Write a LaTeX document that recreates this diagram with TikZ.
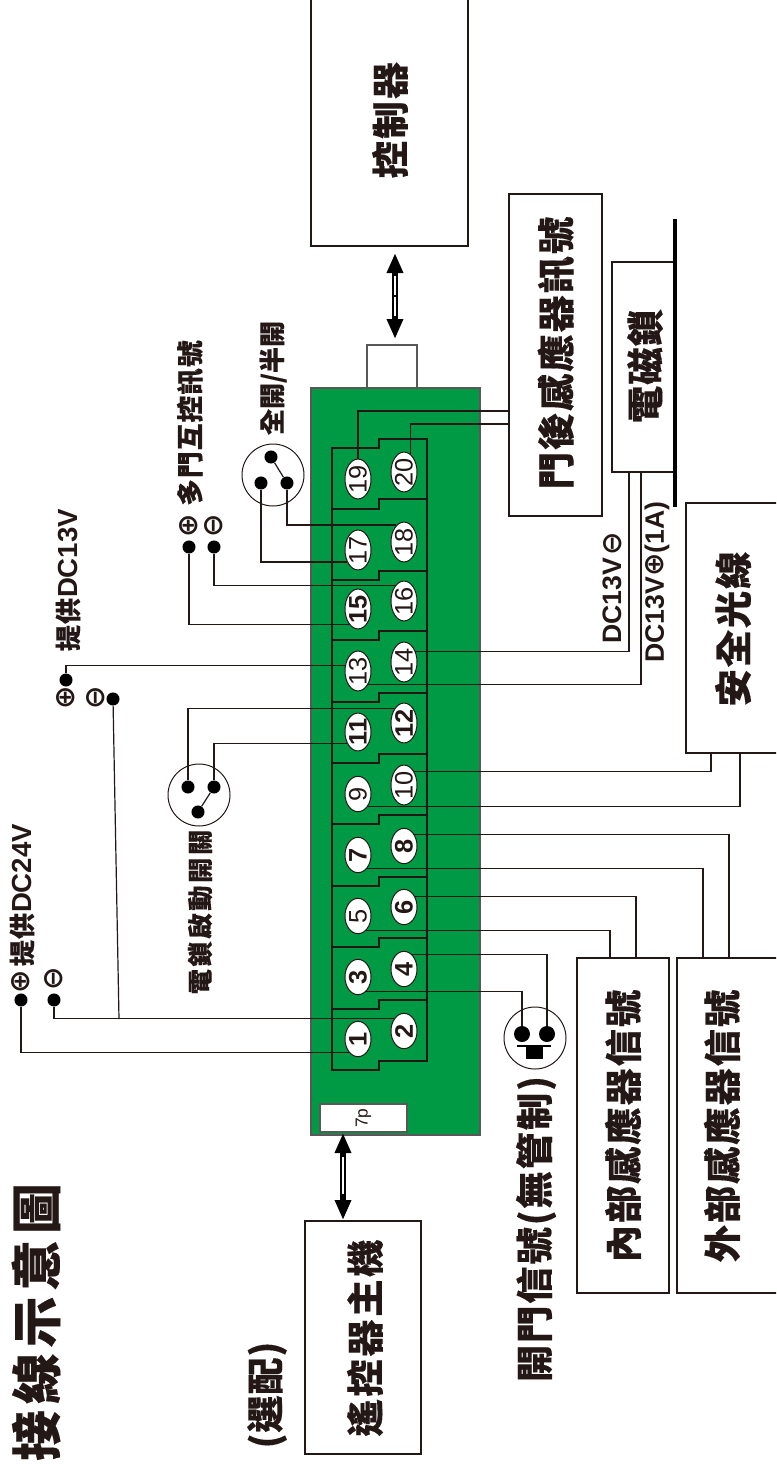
\documentclass[tikz,border=0pt]{standalone}
\usepackage{fontspec}
\usepackage{graphicx}
\usetikzlibrary{shapes.geometric,arrows.meta,calc}
\setmainfont{Liberation Sans}
\newfontfamily\cjkf{Noto Sans CJK TC}
\newfontfamily\symf{DejaVu Sans}
\definecolor{ink}{HTML}{231815}
\definecolor{board}{HTML}{009944}
\definecolor{edge}{HTML}{595757}
\newcommand\fs[2]{\cjkf\bfseries\fontsize{#1}{#1}\selectfont\addfontfeature{LetterSpace=#2,FakeBold=0.3}}
\newcommand\ls[1]{\bfseries\fontsize{#1}{#1}\selectfont}
\newcommand\boxn[5]{\node[boxs,minimum width={(#4-#2)*0.75pt},minimum height={(#5-#3)*0.75pt}] (#1) at ({(#2+#4)/2},{(#3+#5)/2}) {};}
\newcommand\term[4]{\node[termn] (t#1) at (#2,#3) {\rotatebox{90}{#4#1}};}
\newcommand\symb[4]{\node[symn] (#1) at (#2,#3) {\symf #4};}
\tikzset{
  boxs/.style={draw=ink,fill=white,line width=0.9pt,inner sep=0pt,rectangle},
  wire/.style={draw=ink,line width=0.9pt},
  termn/.style={ellipse,draw=ink,fill=white,line width=0.75pt,inner sep=0pt,minimum width=19.5pt,minimum height=26.5pt,font=\fontsize{19}{19}\selectfont,text=ink},
  dot/.style={circle,fill=black,inner sep=0pt,minimum size=9.8pt},
  lbl/.style={rotate=90,inner sep=0pt,text=ink,anchor=center},
  symn/.style={rotate=90,inner sep=0pt,text=ink,anchor=center,font=\bfseries\fontsize{21}{21}\selectfont},
  swcirc/.style={circle,draw=ink,line width=0.75pt,inner sep=0pt,minimum size=46.5pt},
  arrowbody/.style={draw=black,line width=4.2pt,{Triangle[length=15pt,width=11.5pt]}-{Triangle[length=15pt,width=11.5pt]}},
}
\begin{document}
\begin{tikzpicture}[x=0.75pt,y=-0.75pt]
\useasboundingbox (0,0) rectangle (776,1464);
\clip (0,0) rectangle (776,1464);
% board
\node[rectangle,draw=edge,fill=white,line width=0.9pt,minimum width=37.5pt,minimum height=32.25pt,inner sep=0pt] (port) at (392,366.5) {};
\node[rectangle,draw=edge,fill=board,line width=0.9pt,minimum width={169*0.75pt},minimum height={747*0.75pt},inner sep=0pt] (pcb) at (395.5,761.5) {};
\node[rectangle,draw=edge,fill=white,line width=0.9pt,minimum width={87*0.75pt},minimum height={28*0.75pt},inner sep=0pt,text=ink] (sevenp) at (363.5,1118) {\rotatebox{90}{\fontsize{13}{13}\selectfont 7p}};
% terminal block outline
\draw[wire] (379,439) -- (427,439) -- (427,1061) -- (379,1061) -- (379,1070) -- (332,1070) -- (332,448) -- (379,448) -- cycle;
\foreach \l/\r in {509/499,580/571,640/631,702/693,763/754,824/815,886/877,947/938,1009/1000}
  \draw[wire] (332,\l) -- (379,\l) -- (379,\r) -- (427,\r);
% terminals
\term{19}{358}{479}{}
\term{20}{404}{472}{}
\term{18}{404}{542}{}
\term{17}{358}{550}{}
\term{16}{404}{601}{}
\term{15}{358}{609}{\bfseries}
\term{14}{404}{662}{}
\term{13}{358}{671}{}
\term{12}{404}{723}{\bfseries}
\term{11}{358}{732}{\bfseries}
\term{10}{404}{785}{}
\term{9}{358}{794}{}
\term{8}{404}{846}{\bfseries}
\term{7}{358}{855}{\bfseries}
\term{6}{404}{907}{\bfseries}
\term{5}{358}{916}{}
\term{4}{404}{969}{\bfseries}
\term{3}{358}{977}{\bfseries}
\term{2}{404}{1031}{\bfseries}
\term{1}{358}{1039}{\bfseries}
% boxes
\boxn{ctrl}{311}{-4}{468}{246}
\boxn{door}{509}{194}{602}{516}
\boxn{lock}{612}{262}{675}{472}
\boxn{safe}{686}{503}{782}{753}
\boxn{inner}{577}{958}{669}{1293}
\boxn{outer}{677}{958}{782}{1293}
\boxn{remote}{305}{1221}{421}{1454}
% lock bar
\coordinate (barT) at (675,219);
\coordinate (barB) at (675,507);
\draw[black,line width=2.4pt] (barT) -- (barB);
% wire end points on boxes
\coordinate (ds1) at (509,411);
\coordinate (ds2) at (509,424);
\coordinate (lk1) at (629,472);
\coordinate (lk2) at (641,472);
\coordinate (sf1) at (711,753);
\coordinate (sf2) at (740,753);
\coordinate (ou1) at (729,958);
\coordinate (ou2) at (703,958);
\coordinate (in1) at (636,958);
\coordinate (in2) at (610,958);
\coordinate (jn) at (119,1019);
% switches and dots
\node[swcirc] (swA) at (273,475) {};
\node[dot] (dA1) at (261,483) {};
\node[dot] (dA2) at (287,483) {};
\node[dot] (dA3) at (271,457) {};
\draw[wire] (dA3) -- (dA2);
\node[swcirc] (swB) at (199,795) {};
\node[dot] (dB1) at (188,787) {};
\node[dot] (dB2) at (214,787) {};
\node[dot] (dB3) at (198,812) {};
\draw[wire] (dB3) -- (dB2);
\node[swcirc] (swC) at (535,1038) {};
\node[dot,minimum size=12pt] (dC1) at (522,1034) {};
\node[dot,minimum size=12pt] (dC2) at (547,1034) {};
\coordinate (barCa) at (517,1046);
\coordinate (barCb) at (551,1046);
\draw[black,line width=1.6pt] (barCa) -- (barCb);
\fill[black] (526,1046) rectangle (543,1059);
\node[dot] (d16) at (214,547) {};
\node[dot] (d15) at (189,547) {};
\node[dot] (d13p) at (66,680) {};
\node[dot] (d13m) at (113,699) {};
\node[dot] (d24p) at (21,1000) {};
\node[dot] (d24m) at (54,1000) {};
% wires
\draw[wire] (t19.north) |- (ds1);
\draw[wire] (t20.69) |- (ds2);
\draw[wire] (t18.114) -| (dA2);
\draw[wire] (t17.228) -| (dA1);
\draw[wire] (t16.119) -| (d16);
\draw[wire] (t15.241) -| (d15);
\draw[wire] (t13.158) -| (d13p);
\draw[wire] (t12.124) -| (dB1);
\draw[wire] (t11.228) -| (dB2);
\draw[wire] (t2.128) -| (d24m);
\draw[wire] (t1.236) -| (d24p);
\draw[wire] (d13m) -- (jn);
\draw[wire] (t14.43) -| (lk1);
\draw[wire] (t13.-52) -| (lk2);
\draw[wire] (t10.52) -| (sf1);
\draw[wire] (t9.-52) -| (sf2);
\draw[wire] (t8.48) -| (ou1);
\draw[wire] (t7.-56) -| (ou2);
\draw[wire] (t6.43) -| (in1);
\draw[wire] (t5.-61) -| (in2);
\draw[wire] (t4.61) -| (dC2);
\draw[wire] (t3.-61) -| (dC1);
% double arrows
\coordinate (aT1) at (395,253);
\coordinate (aT2) at (395,339);
\draw[arrowbody] (aT1) -- (aT2);
\draw[white,line width=2pt] (395,276) -- (395,295);
\draw[white,line width=2pt] (395,297) -- (395,316);
\coordinate (aB1) at (343,1133);
\coordinate (aB2) at (343,1220);
\draw[arrowbody] (aB1) -- (aB2);
\draw[white,line width=2pt] (343,1157) -- (343,1194);
% labels
\node[lbl,font=\fs{28}{6}] (lctrl) at (390,120) {控制器};
\node[lbl,font=\fs{28}{5}] (ldoor) at (556,353) {門後感應器訊號};
\node[lbl,font=\fs{28}{3}] (llock) at (645,366) {電磁鎖};
\node[lbl,font=\fs{28}{5}] (lsafe) at (733,629) {安全光線};
\node[lbl,font=\fs{28}{7}] (lremote) at (365,1338) {遙控器主機};
\node[lbl,font=\fs{28}{2}] (lopt) at (267,1395) {(選配)};
\node[lbl,font=\fs{28}{5}] (lopen) at (536,1229) {開門信號(無管制)};
\node[lbl,font=\fs{28}{5}] (linner) at (623,1126) {內部感應器信號};
\node[lbl,font=\fs{28}{5}] (louter) at (722,1126) {外部感應器信號};
\node[lbl,font=\fs{20}{4}] (lmulti) at (190,423) {多門互控訊號};
\node[lbl,font=\fs{19.5}{0}] (lfull) at (273,378) {全開/半開};
\node[lbl,font=\fs{19}{10}] (lelock) at (200,912) {電鎖啟動開關};
\node[lbl] (l13) at (68,580) {{\fs{19.5}{4}提供}{\ls{20.7}DC13V}};
\node[lbl] (l24) at (22,895) {{\fs{19.5}{4}提供}{\ls{20.7}DC24V}};
\node[lbl] (lm) at (612,588) {{\ls{20}DC13V}\,{\symf\bfseries\fontsize{21}{21}\selectfont ⊖}};
\node[lbl] (lp) at (657,582) {{\ls{20}DC13V}{\symf\bfseries\fontsize{21}{21}\selectfont ⊕}{\ls{20}(1A)}};
\node[lbl,font=\fs{38}{12}] (ltitle) at (36,1322) {接線示意圖};
% polarity marks
\symb{p16}{214}{526}{⊖}
\symb{p15}{189}{526}{⊕}
\symb{p13p}{66}{698}{⊕}
\symb{p13m}{96}{698}{⊖}
\symb{p24p}{21}{982}{⊕}
\symb{p24m}{54}{979}{⊖}
\end{tikzpicture}
\end{document}
